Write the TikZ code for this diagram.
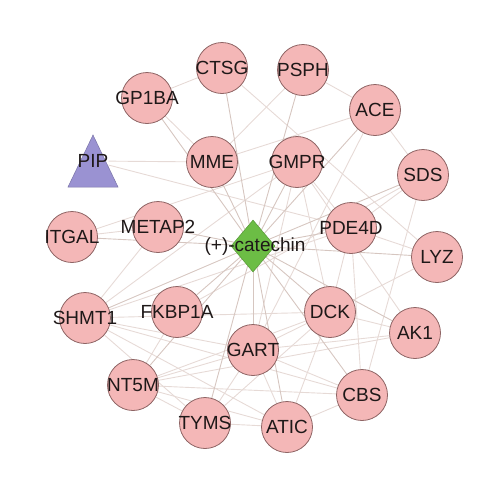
\documentclass[tikz,border=0pt]{standalone}
\usepackage{fontspec}
\setmainfont{Liberation Sans}
\usetikzlibrary{shapes.geometric,backgrounds}
\definecolor{pinkfill}{HTML}{F4B7B7}
\definecolor{pinkline}{HTML}{8E6464}
\definecolor{greenfill}{HTML}{6CBD45}
\definecolor{purplefill}{HTML}{9A92D2}
\definecolor{ppiedge}{HTML}{E6DAD6}
\definecolor{catedge}{HTML}{D6C6C0}
\definecolor{labeltext}{HTML}{1E1818}
\tikzset{
  lbl/.style={font=\fontsize{19}{22}\selectfont, text=labeltext, inner sep=0pt},
  prot/.style={circle, fill=pinkfill, draw=pinkline, line width=0.8pt, minimum size=51pt, inner sep=0pt,
    label={[lbl]center:#1}},
  ppi/.style={draw=ppiedge, line width=0.9pt},
  catlink/.style={draw=catedge, line width=0.9pt}
}
\begin{document}
\begin{tikzpicture}[x=1pt,y=-1pt]
\useasboundingbox (0,0) rectangle (500,491);
% PIP triangle
\fill[purplefill, draw=purplefill!80!black, line width=0.5pt] (93,135) -- (118,187) -- (68,187) -- cycle;
\node[lbl] (PIP) at (93,161) {PIP};
% central diamond
\node[diamond, fill=greenfill, draw=greenfill!80!black, line width=0.5pt, minimum width=44pt, minimum height=52pt, inner sep=0pt] (cat) at (253,246) {};
% proteins
\node[prot=CTSG] (CTSG) at (222,68) {};
\node[prot=GP1BA] (GP1BA) at (147,98) {};
\node[prot=PSPH] (PSPH) at (303,70) {};
\node[prot=ACE] (ACE) at (375,110) {};
\node[prot=MME] (MME) at (212,162) {};
\node[prot=GMPR] (GMPR) at (297,162) {};
\node[prot=SDS] (SDS) at (423,175) {};
\node[prot=METAP2] (METAP2) at (158,227) {};
\node[prot=ITGAL] (ITGAL) at (72,237) {};
\node[prot=PDE4D] (PDE4D) at (351,228) {};
\node[prot=LYZ] (LYZ) at (437,257) {};
\node[prot=SHMT1] (SHMT1) at (85,318) {};
\node[prot=FKBP1A] (FKBP1A) at (177,312) {};
\node[prot=DCK] (DCK) at (330,312) {};
\node[prot=AK1] (AK1) at (415,333) {};
\node[prot=GART] (GART) at (253,350) {};
\node[prot=NT5M] (NT5M) at (133,385) {};
\node[prot=TYMS] (TYMS) at (205,423) {};
\node[prot=ATIC] (ATIC) at (287,427) {};
\node[prot=CBS] (CBS) at (362,395) {};
% catechin label
\node[lbl] (catlabel) at (255,247) {(+)-catechin};
\begin{pgfonlayer}{background}
% protein-protein edges
\foreach \a/\b in {GP1BA/CTSG, GP1BA/MME, CTSG/LYZ, PSPH/MME, PSPH/ACE, ACE/MME, ACE/SDS, ACE/GART,
  SDS/PDE4D, SDS/CBS, SDS/FKBP1A, GMPR/PDE4D, GMPR/GART, GMPR/DCK, GMPR/SHMT1, GMPR/ITGAL, GMPR/AK1,
  METAP2/ITGAL, PDE4D/LYZ, PDE4D/DCK, PDE4D/CBS, PDE4D/SHMT1, LYZ/DCK, DCK/AK1, DCK/SHMT1, DCK/NT5M,
  DCK/TYMS, DCK/ATIC, DCK/GART, AK1/GART, AK1/NT5M, GART/SHMT1, GART/TYMS, GART/ATIC, GART/NT5M,
  TYMS/SHMT1, TYMS/NT5M, TYMS/ATIC, ATIC/SHMT1, ATIC/NT5M, CBS/SHMT1, CBS/NT5M, CBS/GART, CBS/ATIC,
  SHMT1/METAP2, FKBP1A/NT5M, PIP/MME, PIP/PDE4D}
  \draw[ppi] (\a) -- (\b);
% compound-target edges
\foreach \b in {CTSG, GP1BA, PSPH, ACE, MME, GMPR, SDS, METAP2, ITGAL, PDE4D, LYZ, SHMT1, FKBP1A,
  DCK, AK1, GART, NT5M, TYMS, ATIC, CBS}
  \draw[catlink] (cat) -- (\b);
\end{pgfonlayer}
\end{tikzpicture}
\end{document}
